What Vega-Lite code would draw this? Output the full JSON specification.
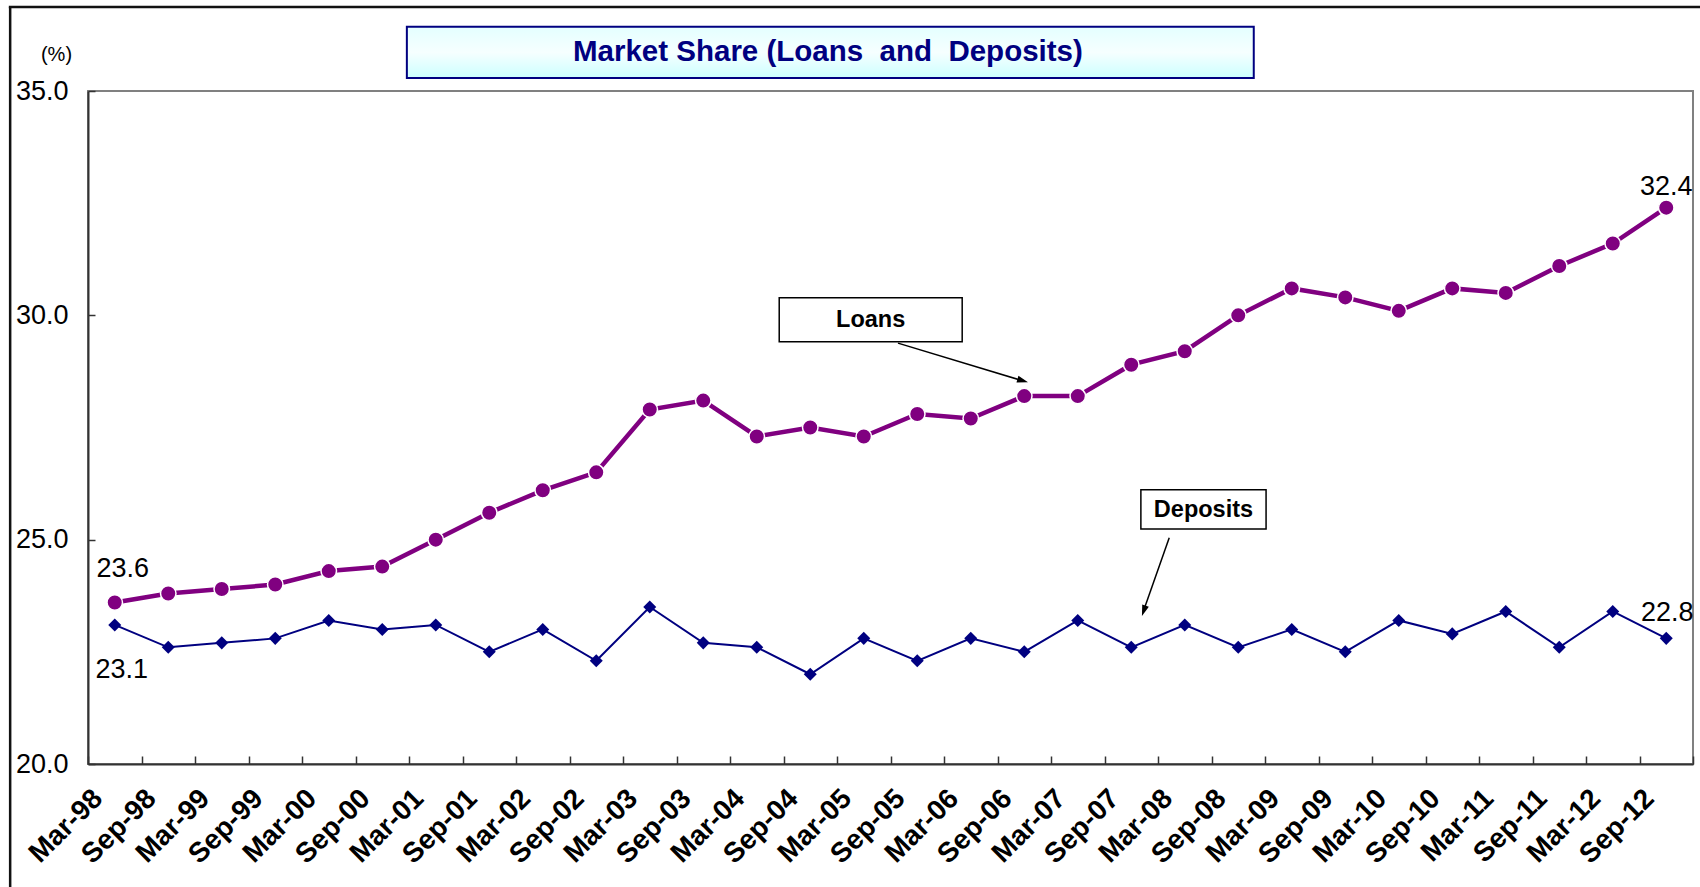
{
  "$schema": "https://vega.github.io/schema/vega-lite/v6.json",
  "width": 1605,
  "height": 673,
  "autosize": "none",
  "padding": {"left": 88, "top": 91, "right": 7, "bottom": 123},
  "background": "white",
  "config": {
    "view": {"stroke": "#808080", "strokeWidth": 2},
    "font": "Liberation Sans"
  },
  "datasets": {
    "share": [
      {"period": "Mar-98", "loans": 23.6, "deposits": 23.1},
      {"period": "Sep-98", "loans": 23.8, "deposits": 22.6},
      {"period": "Mar-99", "loans": 23.9, "deposits": 22.7},
      {"period": "Sep-99", "loans": 24.0, "deposits": 22.8},
      {"period": "Mar-00", "loans": 24.3, "deposits": 23.2},
      {"period": "Sep-00", "loans": 24.4, "deposits": 23.0},
      {"period": "Mar-01", "loans": 25.0, "deposits": 23.1},
      {"period": "Sep-01", "loans": 25.6, "deposits": 22.5},
      {"period": "Mar-02", "loans": 26.1, "deposits": 23.0},
      {"period": "Sep-02", "loans": 26.5, "deposits": 22.3},
      {"period": "Mar-03", "loans": 27.9, "deposits": 23.5},
      {"period": "Sep-03", "loans": 28.1, "deposits": 22.7},
      {"period": "Mar-04", "loans": 27.3, "deposits": 22.6},
      {"period": "Sep-04", "loans": 27.5, "deposits": 22.0},
      {"period": "Mar-05", "loans": 27.3, "deposits": 22.8},
      {"period": "Sep-05", "loans": 27.8, "deposits": 22.3},
      {"period": "Mar-06", "loans": 27.7, "deposits": 22.8},
      {"period": "Sep-06", "loans": 28.2, "deposits": 22.5},
      {"period": "Mar-07", "loans": 28.2, "deposits": 23.2},
      {"period": "Sep-07", "loans": 28.9, "deposits": 22.6},
      {"period": "Mar-08", "loans": 29.2, "deposits": 23.1},
      {"period": "Sep-08", "loans": 30.0, "deposits": 22.6},
      {"period": "Mar-09", "loans": 30.6, "deposits": 23.0},
      {"period": "Sep-09", "loans": 30.4, "deposits": 22.5},
      {"period": "Mar-10", "loans": 30.1, "deposits": 23.2},
      {"period": "Sep-10", "loans": 30.6, "deposits": 22.9},
      {"period": "Mar-11", "loans": 30.5, "deposits": 23.4},
      {"period": "Sep-11", "loans": 31.1, "deposits": 22.6},
      {"period": "Mar-12", "loans": 31.6, "deposits": 23.4},
      {"period": "Sep-12", "loans": 32.4, "deposits": 22.8}
    ]
  },
  "resolve": {"scale": {"x": "independent"}},
  "layer": [
    {
      "data": {"name": "share"},
      "encoding": {
        "x": {
          "field": "period", "type": "nominal", "sort": null, "bandPosition": 0.5,
          "scale": {"type": "band", "paddingInner": 0, "paddingOuter": 0},
          "axis": {
            "title": null, "domainColor": "#333333", "domainWidth": 2,
            "tickColor": "#333333", "tickWidth": 1.5, "tickBand": "extent", "tickSize": -8,
            "labelAngle": -45, "labelAlign": "right", "labelBaseline": "middle",
            "labelOffset": -17, "labelPadding": 38, "labelOverlap": false, "labelFlush": false,
            "labelFont": "Liberation Sans",
            "labelFontWeight": "bold", "labelFontSize": 28, "labelColor": "#000000"
          }
        }
      },
      "layer": [
        {
          "mark": {"type": "line", "color": "#800080", "strokeWidth": 4.5},
          "encoding": {
            "y": {
              "field": "loans", "type": "quantitative",
              "scale": {"domain": [20, 35], "nice": false, "zero": false},
              "axis": {
                "values": [20, 25, 30, 35], "format": ".1f", "grid": false,
                "domainColor": "#333333", "domainWidth": 2, "tickColor": "#333333",
                "tickSize": -7, "tickWidth": 1.5, "labelPadding": 27,
                "labelFont": "Liberation Sans", "labelFontSize": 27, "labelColor": "#000000",
                "title": "(%)", "titleAngle": 0, "titleX": -32, "titleY": -37,
                "titleAlign": "center", "titleBaseline": "middle",
                "titleFont": "Liberation Sans",
                "titleFontSize": 20, "titleFontWeight": "normal", "titleColor": "#000000"
              }
            }
          }
        },
        {
          "mark": {"type": "point", "shape": "circle", "filled": true, "size": 240, "fill": "#800080", "stroke": "#ffffff", "strokeWidth": 1.5, "opacity": 1},
          "encoding": {"y": {"field": "loans", "type": "quantitative"}}
        },
        {
          "mark": {"type": "line", "color": "#000080", "strokeWidth": 2},
          "encoding": {"y": {"field": "deposits", "type": "quantitative"}}
        },
        {
          "mark": {"type": "point", "shape": "diamond", "filled": true, "size": 170, "fill": "#000080", "opacity": 1},
          "encoding": {"y": {"field": "deposits", "type": "quantitative"}}
        },
        {
          "transform": [{"filter": "datum.period === 'Mar-98'"}],
          "mark": {"type": "text", "fontSize": 27, "font": "Liberation Sans", "color": "#000000", "dx": 8, "dy": -33},
          "encoding": {"y": {"field": "loans", "type": "quantitative"}, "text": {"field": "loans", "format": ".1f"}}
        },
        {
          "transform": [{"filter": "datum.period === 'Mar-98'"}],
          "mark": {"type": "text", "fontSize": 27, "font": "Liberation Sans", "color": "#000000", "dx": 7, "dy": 45},
          "encoding": {"y": {"field": "deposits", "type": "quantitative"}, "text": {"field": "deposits", "format": ".1f"}}
        },
        {
          "transform": [{"filter": "datum.period === 'Sep-12'"}],
          "mark": {"type": "text", "fontSize": 27, "font": "Liberation Sans", "color": "#000000", "dx": 0, "dy": -21},
          "encoding": {"y": {"field": "loans", "type": "quantitative"}, "text": {"field": "loans", "format": ".1f"}}
        },
        {
          "transform": [{"filter": "datum.period === 'Sep-12'"}],
          "mark": {"type": "text", "fontSize": 27, "font": "Liberation Sans", "color": "#000000", "dx": 1, "dy": -25},
          "encoding": {"y": {"field": "deposits", "type": "quantitative"}, "text": {"field": "deposits", "format": ".1f"}}
        }
      ]
    },
    {
      "data": {"values": [{}]},
      "layer": [
        {
          "mark": {"type": "rule", "color": "#111111", "strokeWidth": 2.5},
          "encoding": {
            "x": {"datum": -1.955, "type": "quantitative", "scale": {"domain": [-0.5, 29.5], "nice": false, "zero": false}, "axis": null},
            "y": {"datum": 36.87, "type": "quantitative"},
            "y2": {"datum": 17.2}
          }
        },
        {
          "mark": {"type": "rule", "color": "#111111", "strokeWidth": 2.5},
          "encoding": {
            "x": {"datum": -1.98, "type": "quantitative", "scale": {"domain": [-0.5, 29.5], "nice": false, "zero": false}, "axis": null},
            "x2": {"datum": 29.7},
            "y": {"datum": 36.87, "type": "quantitative"}
          }
        },
        {
          "mark": {
            "type": "rect", "stroke": "#000080", "strokeWidth": 2,
            "fill": {"gradient": "linear", "x1": 0, "y1": 0, "x2": 0, "y2": 1,
              "stops": [{"offset": 0, "color": "#E4FFFF"}, {"offset": 0.5, "color": "#F6FFFF"}, {"offset": 1, "color": "#CCFFFF"}]}
          },
          "encoding": {
            "x": {"datum": 5.46, "type": "quantitative", "scale": {"domain": [-0.5, 29.5], "nice": false, "zero": false}, "axis": null},
            "x2": {"datum": 21.29},
            "y": {"datum": 35.29, "type": "quantitative"},
            "y2": {"datum": 36.43}
          }
        },
        {
          "mark": {"type": "text", "text": "Market Share (Loans\u00a0\u00a0and\u00a0\u00a0Deposits)", "font": "Liberation Sans", "fontWeight": "bold", "fontSize": 29.5, "color": "#000080", "align": "center", "baseline": "middle"},
          "encoding": {
            "x": {"datum": 13.33, "type": "quantitative", "scale": {"domain": [-0.5, 29.5], "nice": false, "zero": false}, "axis": null},
            "y": {"datum": 35.86, "type": "quantitative"}
          }
        },
        {
          "mark": {"type": "rect", "fill": "#ffffff", "stroke": "#000000", "strokeWidth": 1.5},
          "encoding": {
            "x": {"datum": 12.42, "type": "quantitative", "scale": {"domain": [-0.5, 29.5], "nice": false, "zero": false}, "axis": null},
            "x2": {"datum": 15.84},
            "y": {"datum": 29.41, "type": "quantitative"},
            "y2": {"datum": 30.39}
          }
        },
        {
          "mark": {"type": "text", "text": "Loans", "font": "Liberation Sans", "fontWeight": "bold", "fontSize": 23.5, "color": "#000000", "align": "center", "baseline": "middle"},
          "encoding": {
            "x": {"datum": 14.13, "type": "quantitative", "scale": {"domain": [-0.5, 29.5], "nice": false, "zero": false}, "axis": null},
            "y": {"datum": 29.9, "type": "quantitative"}
          }
        },
        {
          "mark": {"type": "rule", "color": "#000000", "strokeWidth": 1.5},
          "encoding": {
            "x": {"datum": 14.64, "type": "quantitative", "scale": {"domain": [-0.5, 29.5], "nice": false, "zero": false}, "axis": null},
            "x2": {"datum": 17.0},
            "y": {"datum": 29.38, "type": "quantitative"},
            "y2": {"datum": 28.53}
          }
        },
        {
          "mark": {"type": "point", "shape": "M0,0L3.5,11L-3.5,11Z", "size": 4, "filled": true, "fill": "#000000", "opacity": 1, "angle": 106.7},
          "encoding": {
            "x": {"datum": 17.07, "type": "quantitative", "scale": {"domain": [-0.5, 29.5], "nice": false, "zero": false}, "axis": null},
            "y": {"datum": 28.51, "type": "quantitative"}
          }
        },
        {
          "mark": {"type": "rect", "fill": "#ffffff", "stroke": "#000000", "strokeWidth": 1.5},
          "encoding": {
            "x": {"datum": 19.18, "type": "quantitative", "scale": {"domain": [-0.5, 29.5], "nice": false, "zero": false}, "axis": null},
            "x2": {"datum": 21.52},
            "y": {"datum": 25.24, "type": "quantitative"},
            "y2": {"datum": 26.11}
          }
        },
        {
          "mark": {"type": "text", "text": "Deposits", "font": "Liberation Sans", "fontWeight": "bold", "fontSize": 23.5, "color": "#000000", "align": "center", "baseline": "middle"},
          "encoding": {
            "x": {"datum": 20.35, "type": "quantitative", "scale": {"domain": [-0.5, 29.5], "nice": false, "zero": false}, "axis": null},
            "y": {"datum": 25.67, "type": "quantitative"}
          }
        },
        {
          "mark": {"type": "rule", "color": "#000000", "strokeWidth": 1.5},
          "encoding": {
            "x": {"datum": 19.71, "type": "quantitative", "scale": {"domain": [-0.5, 29.5], "nice": false, "zero": false}, "axis": null},
            "x2": {"datum": 19.22},
            "y": {"datum": 25.04, "type": "quantitative"},
            "y2": {"datum": 23.38}
          }
        },
        {
          "mark": {"type": "point", "shape": "M0,0L3.5,11L-3.5,11Z", "size": 4, "filled": true, "fill": "#000000", "opacity": 1, "angle": 199},
          "encoding": {
            "x": {"datum": 19.2, "type": "quantitative", "scale": {"domain": [-0.5, 29.5], "nice": false, "zero": false}, "axis": null},
            "y": {"datum": 23.3, "type": "quantitative"}
          }
        }
      ]
    }
  ]
}
